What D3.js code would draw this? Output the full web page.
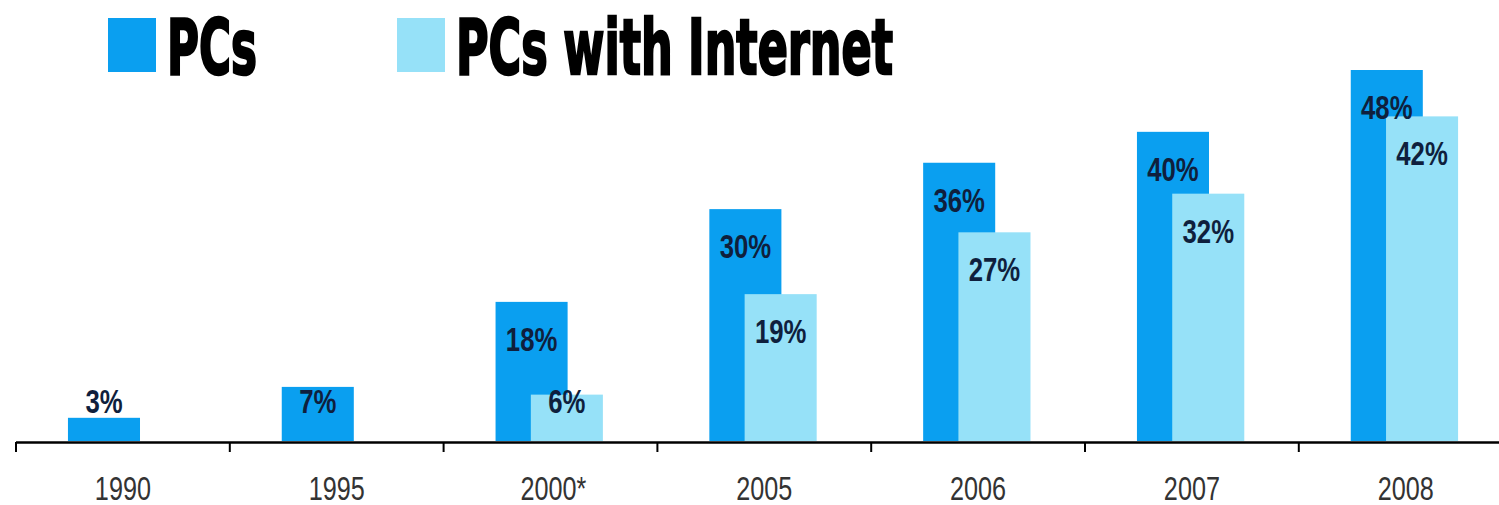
<!DOCTYPE html>
<html>
<head>
<meta charset="utf-8">
<script src="https://cdn.jsdelivr.net/npm/d3@7"></script>
<style>
  html, body { margin: 0; padding: 0; background: #fff; }
  svg { display: block; }
</style>
</head>
<body>
<svg id="chart" width="1499" height="505"></svg>
<script>
const years = ["1990", "1995", "2000*", "2005", "2006", "2007", "2008"];
const pcs = [3, 7, 18, 30, 36, 40, 48];
const pcsInternet = [null, null, 6, 19, 27, 32, 42];
const seriesNames = ["PCs", "PCs with Internet"];
const colors = ["#0a9ff0", "#96e1f8"];

const svg = d3.select("#chart");
const W = 1499, H = 505;
const step = 213.8;
const x = d3.scaleBand().domain(years).range([16, 16 + step * years.length]).paddingInner(0).paddingOuter(0);
const y = d3.scaleLinear().domain([0, 48]).range([441, 70]);
const bw = x.bandwidth();
const barW = bw * 0.337;
const offPC = bw * 0.243;
const offNet = bw * 0.408;

const labelY = v => Math.min(y(v) + 49, y(0) - 28);

// bars: PCs
const g = svg.append("g");
g.selectAll("rect.pc").data(years.map((yr, i) => ({yr, v: pcs[i]})))
  .join("rect").attr("class", "pc")
  .attr("x", d => x(d.yr) + offPC).attr("width", barW)
  .attr("y", d => y(d.v)).attr("height", d => y(0) - y(d.v))
  .attr("fill", colors[0]);

const netData = years.map((yr, i) => ({yr, v: pcsInternet[i]})).filter(d => d.v != null);
g.selectAll("rect.net").data(netData)
  .join("rect").attr("class", "net")
  .attr("x", d => x(d.yr) + offNet).attr("width", barW)
  .attr("y", d => y(d.v)).attr("height", d => y(0) - y(d.v))
  .attr("fill", colors[1]);

// labels
function addLabels(data, off) {
  g.selectAll(null).data(data).join("text")
    .attr("transform", d => `translate(${x(d.yr) + off + barW / 2},${labelY(d.v)}) scale(0.78,1)`)
    .attr("text-anchor", "middle")
    .attr("font-family", "'Liberation Sans', Arial, sans-serif")
    .attr("font-weight", "bold")
    .attr("font-size", 33)
    .attr("fill", "#0f1f3d")
    .text(d => d.v + "%");
}
addLabels(years.map((yr, i) => ({yr, v: pcs[i]})), offPC);
addLabels(netData, offNet);

// axis
const ax = svg.append("g");
ax.append("line").attr("x1", x.range()[0]).attr("x2", W).attr("y1", 442.5).attr("y2", 442.5)
  .attr("stroke", "#000").attr("stroke-width", 2.5);
ax.selectAll("line.tick").data(years).join("line").attr("class", "tick")
  .attr("x1", d => x(d)).attr("x2", d => x(d)).attr("y1", 442).attr("y2", 452)
  .attr("stroke", "#000").attr("stroke-width", 2);
ax.selectAll("text").data(years).join("text")
  .attr("transform", d => `translate(${x(d) + bw / 2 + (d.includes("*") ? 3 : 0)},500) scale(0.84,1.08)`)
  .attr("text-anchor", "middle")
  .attr("font-family", "'Liberation Sans', Arial, sans-serif")
  .attr("font-size", 30)
  .attr("fill", "#333")
  .text(d => d);

// legend
const legend = [
  {name: seriesNames[0], color: colors[0], sx: 108, tx: 167, tw: 90},
  {name: seriesNames[1], color: colors[1], sx: 397, tx: 456, tw: 437}
];
const lg = svg.append("g");
lg.selectAll("rect").data(legend).join("rect")
  .attr("x", d => d.sx).attr("y", 18).attr("width", 48).attr("height", 54)
  .attr("fill", d => d.color);
lg.selectAll("text").data(legend).join("text")
  .attr("x", d => d.tx).attr("y", 73.5)
  .attr("textLength", d => d.tw).attr("lengthAdjust", "spacingAndGlyphs")
  .attr("font-family", "'DejaVu Sans Condensed', 'DejaVu Sans', sans-serif")
  .attr("font-weight", "bold")
  .attr("font-size", 77)
  .attr("fill", "#000").attr("stroke", "#000").attr("stroke-width", 2.5)
  .text(d => d.name);
</script>
</body>
</html>
